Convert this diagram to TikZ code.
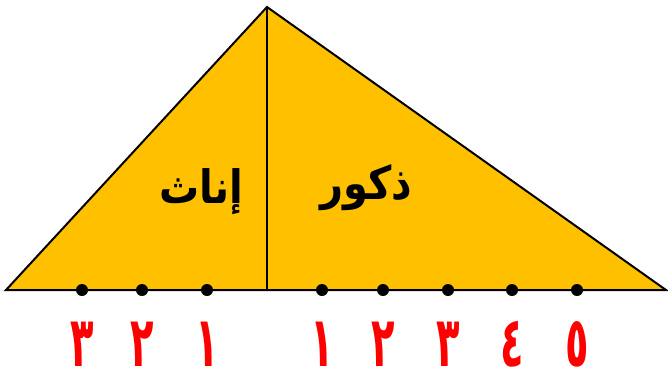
\documentclass[tikz,border=0pt]{standalone}
\usepackage{fontspec}
\newfontfamily\arabicfont[Script=Arabic]{DejaVu Sans}
\TeXXeTstate=1
\definecolor{amber}{HTML}{FFC000}
\definecolor{numred}{HTML}{FF0000}
\begin{document}
\begin{tikzpicture}[x=1pt,y=-1pt,
  dotmark/.style={circle,fill=black,inner sep=0pt,minimum size=12pt},
  numlabel/.style={text=numred,font=\arabicfont\bfseries\fontsize{70}{70}\selectfont,inner sep=0pt,xscale=0.55},
  wordlabel/.style={text=black,font=\arabicfont\bfseries\fontsize{40}{40}\selectfont,inner sep=0pt,yscale=1.15},
  edge/.style={draw=black,line width=2pt,line join=miter}]
\useasboundingbox (0,0) rectangle (668,376);
\coordinate (apex) at (267,7);
\coordinate (bl) at (6,290);
\coordinate (br) at (666,290);
\coordinate (foot) at (267,290);
\fill[amber] (apex) -- (br) -- (bl) -- cycle;
\draw[edge] (bl) -- (apex) -- (br) -- cycle;
\draw[edge] (apex) -- (foot);
\node[wordlabel] (f) at (201,192) {\beginR إناث\endR};
\node[wordlabel] (m) at (366,188) {\beginR ذكور\endR};
\foreach \x/\n/\d in {82/l3/٣,142/l2/٢,207/l1/١,322/r1/١,383/r2/٢,448/r3/٣,512/r4/٤,577/r5/٥}{
  \node[dotmark] (d\n) at (\x,290) {};
  \node[numlabel] (t\n) at (\x,344) {\d};
}
\end{tikzpicture}
\end{document}
